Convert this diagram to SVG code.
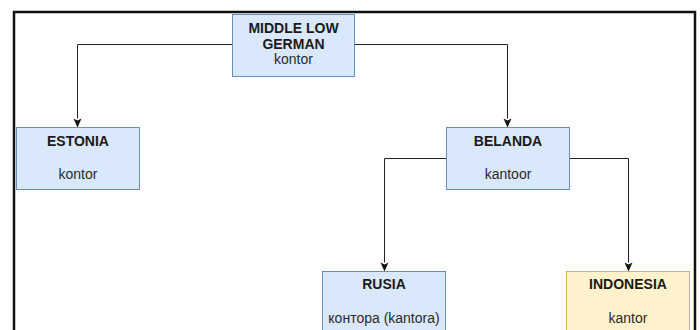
<svg xmlns="http://www.w3.org/2000/svg" width="700" height="330" viewBox="0 0 700 330">
  <style>
    .box { stroke-width: 1; }
    .blue { fill: #dae8fc; stroke: #6c8ebf; }
    .yellow { fill: #fff2cc; stroke: #d6b656; }
    .name { font-family: "Liberation Sans", Arial, sans-serif; font-size: 14px; font-weight: bold; fill: #1a1a1a; text-anchor: middle; }
    .word { font-family: "Liberation Sans", Arial, sans-serif; font-size: 14px; fill: #2a2a2a; text-anchor: middle; }
    .edge { fill: none; stroke: #222; stroke-width: 1; }
    .head { fill: #111; }
  </style>

  <rect width="700" height="330" fill="#fff"/>
  <!-- outer frame, open at the bottom -->
  <path d="M14,331 V12 H695 V331" fill="none" stroke="#111" stroke-width="2.5"/>

  <g id="connectors">
    <path class="edge" d="M232.5,44.5 H77.5 V118.5"/>
    <path class="edge" d="M354.5,44.5 H507.5 V118.5"/>
    <path class="edge" d="M446.5,158.5 H384.5 V262.5"/>
    <path class="edge" d="M569.5,158.5 H628.5 V262.5"/>
    <path class="head" d="M73.5,118.5 L77.5,120.5 L81.5,118.5 L77.5,127.5 Z"/>
    <path class="head" d="M503.5,118.5 L507.5,120.5 L511.5,118.5 L507.5,127.5 Z"/>
    <path class="head" d="M380.5,262.5 L384.5,264.5 L388.5,262.5 L384.5,271.5 Z"/>
    <path class="head" d="M624.5,262.5 L628.5,264.5 L632.5,262.5 L628.5,271.5 Z"/>
  </g>

  <g id="middle-low-german">
    <rect class="box blue" x="232.5" y="14.5" width="122" height="62"/>
    <text class="name" x="293.5" y="33">MIDDLE LOW</text>
    <text class="name" x="293.5" y="48.5">GERMAN</text>
    <text class="word" x="293.5" y="64">kontor</text>
  </g>

  <g id="estonia">
    <rect class="box blue" x="16.5" y="127.5" width="123" height="62"/>
    <text class="name" x="78" y="146">ESTONIA</text>
    <text class="word" x="78" y="179">kontor</text>
  </g>

  <g id="belanda">
    <rect class="box blue" x="446.5" y="127.5" width="123" height="62"/>
    <text class="name" x="508" y="146">BELANDA</text>
    <text class="word" x="508" y="179">kantoor</text>
  </g>

  <g id="rusia">
    <rect class="box blue" x="322.5" y="271.5" width="123" height="62"/>
    <text class="name" x="384" y="289">RUSIA</text>
    <text class="word" x="384" y="323">контора (kantora)</text>
  </g>

  <g id="indonesia">
    <rect class="box yellow" x="566.5" y="271.5" width="123" height="62"/>
    <text class="name" x="628" y="289">INDONESIA</text>
    <text class="word" x="628" y="323">kantor</text>
  </g>
</svg>
